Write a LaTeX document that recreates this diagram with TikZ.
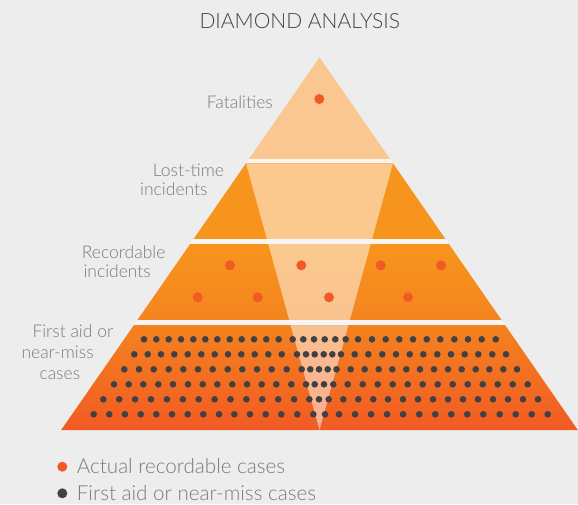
\documentclass[tikz,border=0pt]{standalone}
\usepackage{fontspec}
\setmainfont{Lato}[UprightFont=* Light]
\definecolor{bg}{HTML}{EDEDED}
\definecolor{tierone}{HTML}{F9C78F}
\definecolor{orA}{HTML}{F7941D}
\definecolor{orB}{HTML}{F4851F}
\definecolor{orC}{HTML}{F4821F}
\definecolor{orD}{HTML}{F15A24}
\definecolor{bandc}{HTML}{F7F6F4}
\definecolor{dotred}{HTML}{F15A24}
\definecolor{dotdark}{HTML}{414042}
\definecolor{labgray}{HTML}{7A7A7A}
\definecolor{titlegray}{HTML}{444444}
\begin{document}
\begin{tikzpicture}[x=1pt,y=-1pt,
  reddot/.style={fill=dotred},
  darkdot/.style={fill=dotdark},
  lab/.style={anchor=base west,inner sep=0pt,text=labgray,font=\fontsize{17.5}{20}\selectfont},
  leg/.style={anchor=base west,inner sep=0pt,text=labgray,font=\fontsize{20.6}{23}\selectfont}]
\useasboundingbox (0,0) rectangle (578,504);
\fill[bg] (0,0) rectangle (578,504);
\coordinate (apex) at (319.5,57.3);
\coordinate (bl) at (61.2,430);
\coordinate (br) at (577.8,430);
\begin{scope}
\clip (apex) -- (bl) -- (br) -- cycle;
\fill[tierone] (0,50) rectangle (578,158.7);
\fill[orA] (0,163.3) rectangle (578,239);
\shade[top color=orA,bottom color=orB] (0,244) rectangle (578,320);
\shade[top color=orC,bottom color=orD] (0,325) rectangle (578,431);
\fill[white,opacity=0.5] (246,163.3) -- (393,163.3) -- (319.5,430) -- cycle;
\fill[bandc] (0,158.7) rectangle (578,163.3);
\fill[bandc] (0,239) rectangle (578,244);
\fill[bandc] (0,320) rectangle (578,325);
\end{scope}
% red dots
\fill[reddot] (319.3,99) circle (5);
\foreach \x in {230,301.3,380.7,441} \fill[reddot] (\x,265.3) circle (5);
\foreach \x in {197.7,257.7,329,408} \fill[reddot] (\x,297.3) circle (5);
% dark dots
\foreach \x in {144,156.3,168.7,181,193.3,205.3,217.3,229.7,241.7,254,266.3,278.7,
  292.7,303.3,314,324.7,335.3,345.7,
  358,372,385.7,399.3,413,426.7,440.3,454.3,468,481.7,495.7}
  \fill[darkdot] (\x,339.3) circle (3.3);
\foreach \x in {134.3,147.7,161,174.3,187.7,201.3,214.7,228,241.3,254.7,268.3,281.7,
  297,306,314.7,323.7,332.3,341,
  354.7,368.3,382.3,396,409.7,423.3,437.3,451,464.7,478.3,492.3,506}
  \fill[darkdot] (\x,354.3) circle (3.3);
\foreach \x in {124.3,139,153.7,168.7,183.3,198,212.7,227.7,242.3,257,271.7,286.7,
  301.7,310.3,319,327.7,336.5,
  350.7,364.7,378.7,392.3,406.3,420,434,448,461.7,475.7,489.3,503.3,517}
  \fill[darkdot] (\x,369.3) circle (3.3);
\foreach \x in {114,128.7,143.3,158.3,173,188,202.7,217.3,232.3,247,261.7,276.3,291.3,
  306,314.7,324,333.3,
  347.7,362.7,377.7,392.7,407.7,422.7,437.7,452.7,467.7,482.7,497.7,512.7,527.7}
  \fill[darkdot] (\x,384.3) circle (3.3);
\foreach \i in {0,...,12} \fill[darkdot] (103.3+\i*15.9,399.3) circle (3.3);
\foreach \x in {309.3,319,328.7,
  343.3,358.3,373.3,388,403,418,433,448,463,478,493,508,523,538}
  \fill[darkdot] (\x,399.3) circle (3.3);
\foreach \x in {93.7,109.3,125,140.7,156.3,172,187.7,203.3,219,234.3,250,265.7,281.3,297.3,
  313.3,325,
  339,355,371,387,403,419.3,435.3,451.3,467.3,483.3,499.7,515.7,531.7,547.7}
  \fill[darkdot] (\x,414.3) circle (3.3);
% texts
\node[anchor=base west,inner sep=0pt,text=titlegray,font=\fontsize{21}{24}\selectfont] (title) at (199.3,28.3) {DIAMOND ANALYSIS};
\node[lab] (fat) at (206.7,108.3) {Fatalities};
\node[lab] (lt1) at (152.7,176) {Lost-time};
\node[lab] (lt2) at (140,195) {incidents};
\node[lab] (rc1) at (81.7,258.3) {Recordable};
\node[lab] (rc2) at (83.3,277.3) {incidents};
\node[lab] (fa1) at (32.3,337.7) {First aid or};
\node[lab] (fa2) at (21.3,358.3) {near-miss};
\node[lab] (fa3) at (39.3,379) {cases};
\fill[reddot] (62.3,466.7) circle (5);
\fill[darkdot] (62.3,493.3) circle (5);
\node[leg] (lg1) at (76.7,473.3) {Actual recordable cases};
\node[leg] (lg2) at (76.7,500.5) {First aid or near-miss cases};
\end{tikzpicture}
\end{document}
